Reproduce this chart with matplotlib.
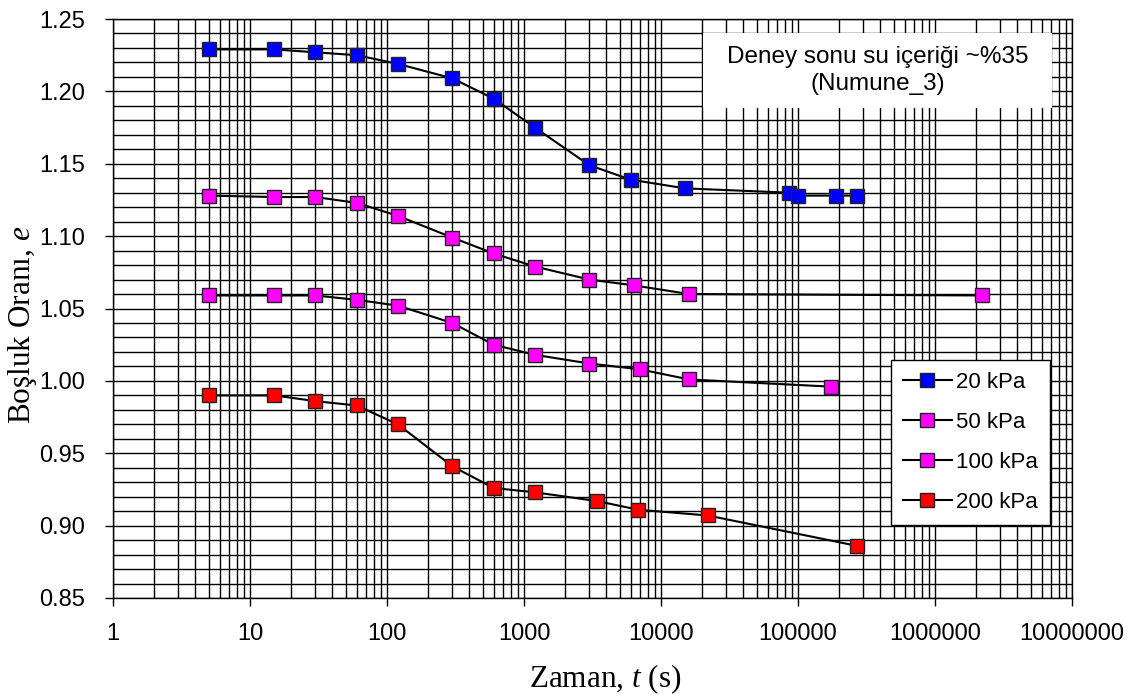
import matplotlib.pyplot as plt
from matplotlib.patches import Rectangle
from matplotlib.ticker import FixedLocator, FuncFormatter, MultipleLocator, NullFormatter

plt.rcParams['font.family'] = ['Liberation Sans', 'DejaVu Sans']
plt.rcParams['mathtext.fontset'] = 'custom'
plt.rcParams['mathtext.rm'] = 'Liberation Serif'
plt.rcParams['mathtext.it'] = 'Liberation Serif:italic'

# --- data ---
t_20 = [5, 15, 30, 60, 120, 300, 600, 1200, 3000, 6000, 15000, 86400, 100000, 190000, 270000]
e_20 = [1.229, 1.229, 1.227, 1.225, 1.219, 1.209, 1.195, 1.175, 1.149, 1.139, 1.133, 1.130, 1.128, 1.128, 1.128]

t_50 = [5, 15, 30, 60, 120, 300, 600, 1200, 3000, 6300, 16000, 2200000]
e_50 = [1.128, 1.127, 1.127, 1.123, 1.114, 1.099, 1.088, 1.079, 1.070, 1.066, 1.060, 1.059]

t_100 = [5, 15, 30, 60, 120, 300, 600, 1200, 3000, 7000, 16000, 175000]
e_100 = [1.059, 1.059, 1.059, 1.056, 1.052, 1.040, 1.025, 1.018, 1.012, 1.008, 1.001, 0.996]

t_200 = [5, 15, 30, 60, 120, 300, 600, 1200, 3400, 6800, 22000, 270000]
e_200 = [0.990, 0.990, 0.986, 0.983, 0.970, 0.941, 0.926, 0.923, 0.917, 0.911, 0.907, 0.886]

series = [
    ('20 kPa', t_20, e_20, '#0000FF'),
    ('50 kPa', t_50, e_50, '#FF00FF'),
    ('100 kPa', t_100, e_100, '#FF00FF'),
    ('200 kPa', t_200, e_200, '#FF0000'),
]

# log decades shown on the x axis (1 .. 10^7)
decades = [10 ** i for i in range(8)]

fig = plt.figure(figsize=(11.38, 6.98), dpi=100)
ax = fig.add_axes([113 / 1138, 1 - 598 / 698, 959 / 1138, 579 / 698])

for label, t, e, c in series:
    ax.plot(t, e, color='black', linewidth=1.5, marker='s', markersize=9.5,
            markerfacecolor=c, markeredgecolor='#222222', markeredgewidth=1.0,
            label=label, zorder=3)

ax.set_xscale('log')
ax.set_xlim(1, 1e7)
ax.set_ylim(0.85, 1.25)

# grid: every log minor line, every 0.01 in y
ax.xaxis.set_major_locator(FixedLocator(decades))
ax.xaxis.set_minor_locator(FixedLocator([d * k for d in decades[:-1] for k in range(2, 10)]))
ax.xaxis.set_minor_formatter(NullFormatter())
ax.xaxis.set_major_formatter(FuncFormatter(lambda v, p: f'{v:.0f}'))
ax.yaxis.set_major_locator(MultipleLocator(0.05))
ax.yaxis.set_minor_locator(MultipleLocator(0.01))
ax.yaxis.set_major_formatter(FuncFormatter(lambda v, p: f'{v:.2f}'))

ax.grid(True, which='both', color='black', linewidth=1.0)
ax.tick_params(which='major', direction='out', length=6, width=1, labelsize=17,
               color='black')
ax.tick_params(axis='x', which='major', pad=12)
ax.tick_params(axis='y', which='major', pad=14)
ax.tick_params(which='minor', length=0)
for s in ax.spines.values():
    s.set_linewidth(1.0)

ax.set_xlabel('Zaman, $t$ (s)', fontsize=22.5, family='Liberation Serif')
ax.set_ylabel('Boşluk Oranı, $e$', fontsize=22.5, family='Liberation Serif')
ax.xaxis.set_label_coords(0.513, -0.112)
ax.yaxis.set_label_coords(-0.077, 0.471)

# white note box over the grid, top right
ax.add_patch(Rectangle((0.615, 0.846), 0.364, 0.1295, transform=ax.transAxes,
                       facecolor='white', edgecolor='none', zorder=4))
ax.text(0.797, 0.911, 'Deney sonu su içeriği ~%35\n(Numune_3)', transform=ax.transAxes,
        ha='center', va='center', fontsize=17.5, linespacing=1.25, zorder=5)

leg = ax.legend(loc='upper left', bbox_to_anchor=(0.811, 0.411), borderaxespad=0,
                fontsize=16, frameon=True, fancybox=False, edgecolor='black',
                framealpha=1, labelspacing=0.85, handlelength=2.2, borderpad=0.55,
                handletextpad=0.2)
leg.get_frame().set_linewidth(1.0)
leg.set_zorder(5)

fig.savefig('out.png', dpi=100)
